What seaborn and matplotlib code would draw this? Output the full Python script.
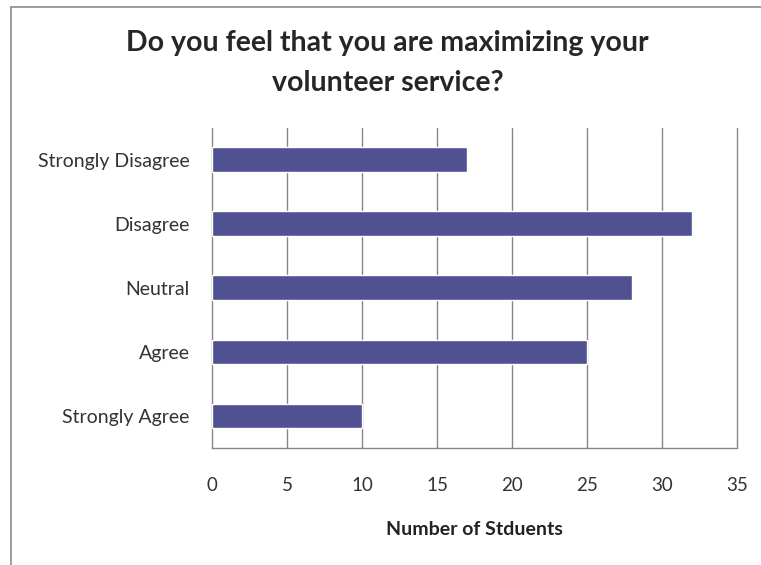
import matplotlib.pyplot as plt
import seaborn as sns
import pandas as pd
from matplotlib.lines import Line2D

categories = ['Strongly Disagree', 'Disagree', 'Neutral', 'Agree', 'Strongly Agree']
students = [17, 32, 28, 25, 10]
x_ticks = [0, 5, 10, 15, 20, 25, 30, 35]

df = pd.DataFrame({'response': categories, 'count': students})

sns.set_style('white')
plt.rcParams['font.family'] = ['Lato', 'DejaVu Sans']

fig = plt.figure(figsize=(7.61, 5.65), dpi=100)
ax = fig.add_axes([0.2786, 0.2071, 0.6899, 0.5664])

sns.barplot(data=df, x='count', y='response', orient='h', color='#4F5190',
            width=0.39, saturation=1, ax=ax, zorder=3)

ax.set_xlim(0, 35)
ax.set_ylim(4.5, -0.5)
ax.set_xticks(x_ticks)
ax.set_xticklabels([str(t) for t in x_ticks], fontsize=13.5, color='#333333')
ax.tick_params(axis='y', length=0, labelsize=14, labelcolor='#333333', pad=16)
ax.tick_params(axis='x', length=7, width=1, color='#868686', direction='out', pad=14)
ax.grid(axis='x', color='#868686', linewidth=1, zorder=0)
ax.grid(axis='y', visible=False)
for line in ax.get_xgridlines():
    line.set_clip_on(False)
for s in ['top', 'right', 'left']:
    ax.spines[s].set_visible(False)
ax.spines['bottom'].set_color('#868686')
ax.spines['bottom'].set_linewidth(1)
ax.set_ylabel('')
ax.set_xlabel('Number of Stduents', fontsize=14, fontweight='bold', color='#222222', labelpad=19)

fig.text(0.509, 0.889, 'Do you feel that you are maximizing your\nvolunteer service?',
         ha='center', va='center', fontsize=20.5, fontweight='bold', linespacing=1.65)

# outer chart border (only left and top edges are inside the picture)
x0, y0 = 11 / 761, 1 - 7 / 565
fig.lines.append(Line2D([x0, x0], [0, y0], transform=fig.transFigure, color='#8c8c8c', linewidth=1.2))
fig.lines.append(Line2D([x0, 1], [y0, y0], transform=fig.transFigure, color='#8c8c8c', linewidth=1.2))

fig.savefig('out.png', dpi=100)
